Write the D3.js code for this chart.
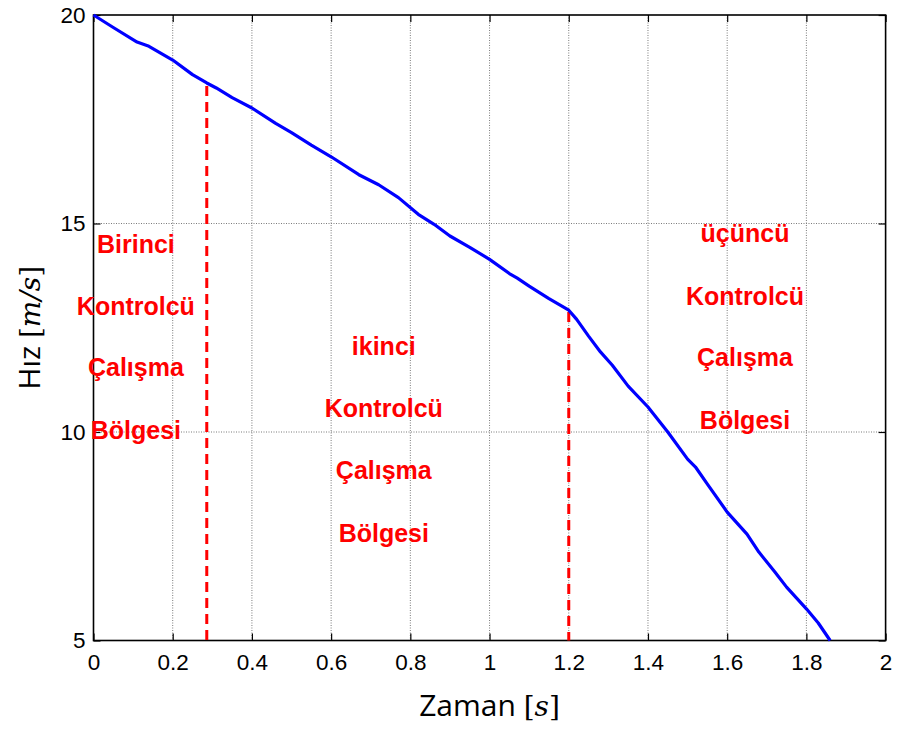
<!DOCTYPE html>
<html>
<head>
<meta charset="utf-8">
<script src="https://cdn.jsdelivr.net/npm/d3@7"></script>
<style>
  html, body { margin: 0; padding: 0; background: #fff; }
  svg { display: block; }
</style>
</head>
<body>
<svg id="chart" width="897" height="731"></svg>
<script>
// Speed profile: time [s] and speed [m/s]
const timeS = [0, 0.05, 0.11, 0.14, 0.2, 0.25, 0.286, 0.31, 0.35, 0.4, 0.46, 0.5, 0.55, 0.6,
  0.67, 0.72, 0.77, 0.82, 0.86, 0.9, 0.95, 1.0, 1.05, 1.07, 1.1, 1.15, 1.2, 1.22, 1.25,
  1.28, 1.31, 1.35, 1.4, 1.45, 1.5, 1.52, 1.55, 1.6, 1.65, 1.68, 1.72, 1.75, 1.8, 1.83, 1.86];
const speed = [20, 19.7, 19.35, 19.25, 18.92, 18.57, 18.37, 18.25, 18.02, 17.77, 17.4, 17.18, 16.88, 16.6,
  16.17, 15.93, 15.62, 15.22, 14.98, 14.7, 14.43, 14.14, 13.8, 13.69, 13.5, 13.2, 12.92, 12.7, 12.3,
  11.92, 11.6, 11.1, 10.6, 10.0, 9.35, 9.16, 8.75, 8.08, 7.55, 7.12, 6.65, 6.28, 5.76, 5.42, 5.0];

// Controller switching instants and the speed where each marker starts
const switchTimes = [0.286, 1.2];
const switchSpeeds = [18.3, 12.88];

// Axis ticks
const xTicks = [0, 0.2, 0.4, 0.6, 0.8, 1, 1.2, 1.4, 1.6, 1.8, 2];
const xTickLabels = ["0", "0.2", "0.4", "0.6", "0.8", "1", "1.2", "1.4", "1.6", "1.8", "2"];
const yTicks = [5, 10, 15, 20];
const yTickLabels = ["5", "10", "15", "20"];

// Region annotations: lines of each label, anchor time and baseline speeds
const region1Lines = ["Birinci", "Kontrolcü", "Çalışma", "Bölgesi"];
const region1X = 0.107;
const region1Y = [14.29, 12.8, 11.34, 9.83];
const region2Lines = ["ikinci", "Kontrolcü", "Çalışma", "Bölgesi"];
const region2X = 0.733;
const region2Y = [11.84, 10.36, 8.88, 7.36];
const region3Lines = ["üçüncü", "Kontrolcü", "Çalışma", "Bölgesi"];
const region3X = 1.645;
const region3Y = [14.56, 13.04, 11.58, 10.08];

const svg = d3.select("#chart");
const margin = { left: 93.5, right: 897 - 885.6, top: 15, bottom: 731 - 640.5 };
const W = 897, H = 731;

const x = d3.scaleLinear().domain([0, 2]).range([margin.left, W - margin.right]);
const y = d3.scaleLinear().domain([5, 20]).range([H - margin.bottom, margin.top]);

const x0 = x.range()[0], x1 = x.range()[1];
const y0 = y.range()[0], y1 = y.range()[1];

// Dotted grid
const grid = svg.append("g").attr("stroke", "#7a7a7a").attr("stroke-width", 1)
  .attr("stroke-dasharray", "1,1.5");
grid.selectAll("line.gx").data(xTicks.slice(1, -1)).join("line")
  .attr("x1", d => x(d)).attr("x2", d => x(d)).attr("y1", y1).attr("y2", y0);
grid.selectAll("line.gy").data(yTicks.slice(1, -1)).join("line")
  .attr("x1", x0).attr("x2", x1).attr("y1", d => y(d)).attr("y2", d => y(d));

// Axes with inward ticks on all four sides
const fontTicks = "'Liberation Sans', Arial, sans-serif";
const xAxisB = d3.axisBottom(x).tickValues(xTicks).tickSize(-7).tickPadding(14)
  .tickFormat((d, i) => xTickLabels[i]);
const xAxisT = d3.axisTop(x).tickValues(xTicks).tickSize(-7).tickFormat("");
const yAxisL = d3.axisLeft(y).tickValues(yTicks).tickSize(-7).tickPadding(8)
  .tickFormat((d, i) => yTickLabels[i]);
const yAxisR = d3.axisRight(y).tickValues(yTicks).tickSize(-7).tickFormat("");

function styleAxis(g) {
  g.select(".domain").remove();
  g.selectAll(".tick line").attr("stroke", "#000").attr("stroke-width", 1.2);
  g.selectAll(".tick text").attr("fill", "#000").style("font-family", fontTicks).style("font-size", "22.5px");
}
svg.append("g").attr("transform", `translate(0,${y0})`).call(xAxisB).call(styleAxis);
svg.append("g").attr("transform", `translate(0,${y1})`).call(xAxisT).call(styleAxis);
svg.append("g").attr("transform", `translate(${x0},0)`).call(yAxisL).call(styleAxis);
svg.append("g").attr("transform", `translate(${x1},0)`).call(yAxisR).call(styleAxis);

// Frame
svg.append("rect").attr("x", x0).attr("y", y1).attr("width", x1 - x0).attr("height", y0 - y1)
  .attr("fill", "none").attr("stroke", "#000").attr("stroke-width", 1.6);

// Switching markers
svg.append("g").selectAll("line").data(switchTimes).join("line")
  .attr("x1", d => x(d)).attr("x2", d => x(d))
  .attr("y1", (d, i) => y(switchSpeeds[i])).attr("y2", y(5))
  .attr("stroke", "#ff0000").attr("stroke-width", 3).attr("stroke-dasharray", "10,6");

// Speed curve
const pts = timeS.map((t, i) => [t, speed[i]]);
svg.append("path").datum(pts)
  .attr("d", d3.line().x(d => x(d[0])).y(d => y(d[1])))
  .attr("fill", "none").attr("stroke", "#0000ff").attr("stroke-width", 3.2)
  .attr("stroke-linejoin", "round");

// Region labels
function regionLabel(lines, tx, ys) {
  svg.append("g").selectAll("text").data(lines).join("text")
    .attr("x", x(tx)).attr("y", (d, i) => y(ys[i]))
    .attr("text-anchor", "middle")
    .attr("fill", "#ff0000")
    .style("font-family", "'Liberation Sans', Arial, sans-serif")
    .style("font-weight", "bold").style("font-size", "25px")
    .text(d => d);
}
regionLabel(region1Lines, region1X, region1Y);
regionLabel(region2Lines, region2X, region2Y);
regionLabel(region3Lines, region3X, region3Y);

// Axis titles
const xt = svg.append("text").attr("x", (x0 + x1) / 2).attr("y", 716)
  .attr("text-anchor", "middle").attr("fill", "#000")
  .style("font-family", "'Open Sans', sans-serif").style("font-size", "30px");
xt.append("tspan").text("Zaman ");
xt.append("tspan").style("font-family", "'DejaVu Serif', serif").style("font-size", "28px").text("[");
xt.append("tspan").style("font-family", "'DejaVu Serif', serif").style("font-style", "italic").style("font-size", "28px").text("s");
xt.append("tspan").style("font-family", "'DejaVu Serif', serif").style("font-size", "28px").text("]");

const yt = svg.append("text").attr("transform", `translate(40,${(y0 + y1) / 2}) rotate(-90)`)
  .attr("text-anchor", "middle").attr("fill", "#000")
  .style("font-family", "'Open Sans', sans-serif").style("font-size", "30px");
yt.append("tspan").text("Hız ");
yt.append("tspan").style("font-family", "'DejaVu Serif', serif").style("font-size", "28px").text("[");
yt.append("tspan").style("font-family", "'DejaVu Serif', serif").style("font-style", "italic").style("font-size", "28px").text("m/s");
yt.append("tspan").style("font-family", "'DejaVu Serif', serif").style("font-size", "28px").text("]");
</script>
</body>
</html>
